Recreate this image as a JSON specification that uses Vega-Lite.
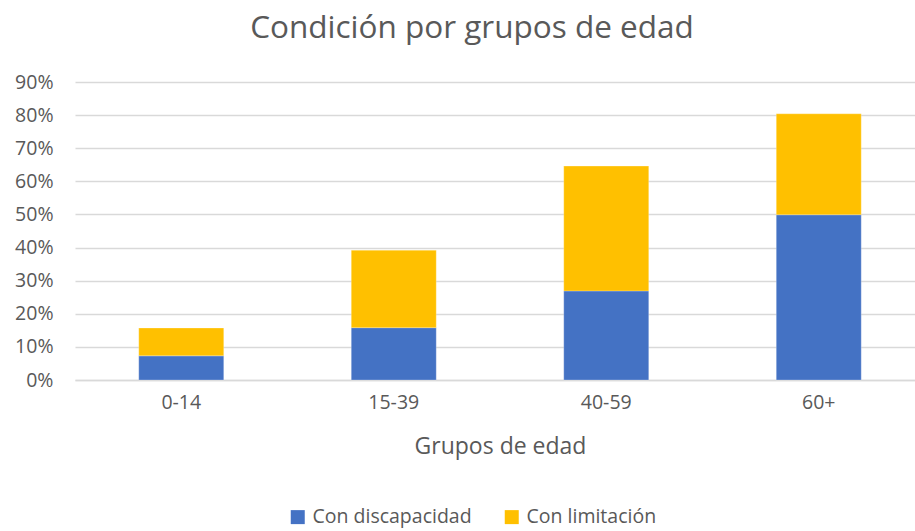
{
  "$schema": "https://vega.github.io/schema/vega-lite/v6.json",
  "autosize": "none",
  "width": 850,
  "height": 298,
  "padding": {"left": 75, "top": 82, "right": 0, "bottom": 151},
  "background": "white",
  "config": {
    "font": "Open Sans",
    "view": {"stroke": null}
  },
  "title": {
    "text": "Condición por grupos de edad",
    "fontSize": 31.5,
    "font": "Open Sans",
    "fontWeight": "normal",
    "color": "#595959",
    "anchor": "middle",
    "dx": -28,
    "offset": 28
  },
  "data": {
    "values": [
      {"grupo": "0-14", "condicion": "Con discapacidad", "orden": 1, "valor": 0.073},
      {"grupo": "0-14", "condicion": "Con limitación", "orden": 2, "valor": 0.084},
      {"grupo": "15-39", "condicion": "Con discapacidad", "orden": 1, "valor": 0.158},
      {"grupo": "15-39", "condicion": "Con limitación", "orden": 2, "valor": 0.234},
      {"grupo": "40-59", "condicion": "Con discapacidad", "orden": 1, "valor": 0.269},
      {"grupo": "40-59", "condicion": "Con limitación", "orden": 2, "valor": 0.377},
      {"grupo": "60+", "condicion": "Con discapacidad", "orden": 1, "valor": 0.499},
      {"grupo": "60+", "condicion": "Con limitación", "orden": 2, "valor": 0.305}
    ]
  },
  "mark": {"type": "bar", "stroke": "white", "strokeWidth": 0.5, "strokeOpacity": 0.5},
  "encoding": {
    "x": {
      "field": "grupo",
      "type": "nominal",
      "sort": ["0-14", "15-39", "40-59", "60+"],
      "scale": {"paddingInner": 0.6, "paddingOuter": 0.3},
      "axis": {
        "title": "Grupos de edad",
        "titleFontSize": 23,
        "titleFontWeight": "normal",
        "titleColor": "#595959",
        "titlePadding": 24,
        "labelAngle": 0,
        "labelFontSize": 19.5,
        "labelColor": "#595959",
        "labelPadding": 13,
        "ticks": false,
        "domain": true,
        "domainColor": "#d9d9d9",
        "domainWidth": 1.3
      }
    },
    "y": {
      "field": "valor",
      "type": "quantitative",
      "stack": "zero",
      "scale": {"domain": [0, 0.9]},
      "axis": {
        "title": null,
        "format": ".0%",
        "values": [0, 0.1, 0.2, 0.3, 0.4, 0.5, 0.6, 0.7, 0.8, 0.9],
        "labelFontSize": 19.5,
        "labelColor": "#595959",
        "labelPadding": 22,
        "ticks": false,
        "domain": false,
        "grid": true,
        "gridColor": "#d9d9d9",
        "gridWidth": 1.3
      }
    },
    "color": {
      "field": "condicion",
      "type": "nominal",
      "scale": {"domain": ["Con discapacidad", "Con limitación"], "range": ["#4472C4", "#FFC000"]},
      "legend": {
        "title": null,
        "orient": "none",
        "direction": "horizontal",
        "legendX": 213,
        "legendY": 425,
        "symbolType": "square",
        "symbolSize": 196,
        "symbolStrokeWidth": 0,
        "labelFontSize": 19.5,
        "labelLimit": 400,
        "labelColor": "#595959",
        "labelOffset": 5,
        "columnPadding": 30
      }
    },
    "order": {"field": "orden", "type": "quantitative"}
  }
}
